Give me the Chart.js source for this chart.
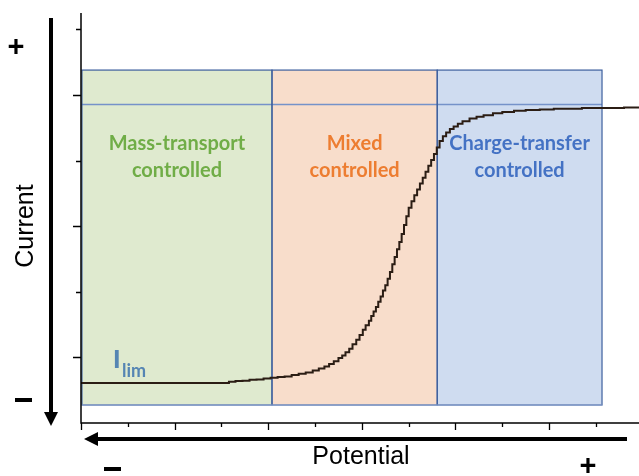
<!DOCTYPE html>
<html>
<head>
<meta charset="utf-8">
<script src="https://cdn.jsdelivr.net/npm/chart.js@4"></script>
<style>
  html, body { margin: 0; padding: 0; background: #fff; }
  #wrap { width: 639px; height: 476px; }
</style>
</head>
<body>
<div id="wrap"><canvas id="myChart" width="639" height="476"></canvas></div>
<script>
// curve (potential units, current units)
const potential = [0, 3.14, 3.16, 3.3, 3.45, 3.6, 3.75, 3.9, 4.05, 4.2, 4.35, 4.5, 4.65, 4.8, 4.95, 5.08, 5.2, 5.3, 5.4, 5.5,
  5.58, 5.65, 5.73, 5.8, 5.88, 5.95, 6.02, 6.08, 6.15, 6.2, 6.25, 6.3, 6.35, 6.4, 6.45, 6.5, 6.55, 6.6, 6.65, 6.7,
  6.75, 6.8, 6.85, 6.9, 6.95, 7.0, 7.06, 7.12, 7.18, 7.24, 7.3, 7.36, 7.42, 7.48, 7.54, 7.6, 7.66, 7.73, 7.8, 7.88,
  7.96, 8.05, 8.15, 8.3, 8.45, 8.6, 8.8, 9.0, 9.25, 9.5, 9.8, 10.1, 10.4, 10.7, 11.0, 11.3, 11.6, 11.92];
const current = [0.61, 0.61, 0.63, 0.64, 0.645, 0.66, 0.665, 0.68, 0.69, 0.7, 0.71, 0.73, 0.75, 0.77, 0.8, 0.83, 0.86, 0.9, 0.94, 0.99,
  1.03, 1.08, 1.13, 1.2, 1.27, 1.34, 1.42, 1.49, 1.56, 1.63, 1.7, 1.77, 1.85, 1.93, 2.02, 2.1, 2.2, 2.3, 2.42, 2.53,
  2.65, 2.76, 2.88, 3.02, 3.15, 3.28, 3.38, 3.47, 3.56, 3.65, 3.74, 3.83, 3.92, 4.01, 4.1, 4.2, 4.3, 4.37, 4.43, 4.48,
  4.52, 4.56, 4.6, 4.64, 4.67, 4.69, 4.72, 4.74, 4.76, 4.77, 4.78, 4.79, 4.79, 4.8, 4.8, 4.8, 4.81, 4.81];

// regions
const regionNames = [["Mass-transport", "controlled"], ["Mixed", "controlled"], ["Charge-transfer", "controlled"]];
const regionStart = [0.02, 4.08, 7.61];
const regionEnd = [4.08, 7.61, 11.13];
const regionTop = 5.38;
const regionBottom = 0.274;
const limitLine = 4.86;
const regionFill = ["#dfeacf", "#f8ddcb", "#cfdcf0"];
const regionText = ["#70ad47", "#ed7d31", "#4472c4"];

const xMax = 11.92;
const yMax = 6.25;

let pts = [];
for (let i = 0; i < potential.length; i++) {
  pts.push({ x: potential[i], y: current[i] });
}

// 영역 박스 + 축 + 눈금 + 글자
const decor = {
  id: 'decor',
  beforeDatasetsDraw(chart) {
    const ctx = chart.ctx;
    const xs = chart.scales.x, ys = chart.scales.y;
    const t = ys.getPixelForValue(regionTop), b = ys.getPixelForValue(regionBottom);
    ctx.save();
    for (let i = 0; i < regionStart.length; i++) {
      const l = xs.getPixelForValue(regionStart[i]), r = xs.getPixelForValue(regionEnd[i]);
      ctx.fillStyle = regionFill[i];
      ctx.fillRect(l, t, r - l, b - t);
    }
    // horizontal limiting line
    ctx.strokeStyle = "#7592c9";
    ctx.lineWidth = 1.3;
    const ly = Math.round(ys.getPixelForValue(limitLine)) + 0.5;
    ctx.beginPath();
    ctx.moveTo(xs.getPixelForValue(regionStart[0]), ly);
    ctx.lineTo(xs.getPixelForValue(regionEnd[2]), ly);
    ctx.stroke();
    // box borders
    ctx.strokeStyle = "#3d5f9e";
    ctx.lineWidth = 1.2;
    for (let i = 0; i < regionStart.length; i++) {
      const l = xs.getPixelForValue(regionStart[i]), r = xs.getPixelForValue(regionEnd[i]);
      ctx.strokeRect(l, t, r - l, b - t);
    }
    ctx.strokeStyle = "#8fa6cf";
    ctx.beginPath();
    ctx.moveTo(xs.getPixelForValue(regionStart[0]), b);
    ctx.lineTo(xs.getPixelForValue(regionEnd[2]), b);
    ctx.stroke();
    ctx.restore();
  },
  afterDraw(chart) {
    const ctx = chart.ctx;
    const xs = chart.scales.x, ys = chart.scales.y;
    const a = chart.chartArea;
    ctx.save();
    // axes + ticks
    ctx.strokeStyle = "#000";
    ctx.lineWidth = 1.5;
    ctx.beginPath();
    ctx.moveTo(a.left, a.top);
    ctx.lineTo(a.left, a.bottom);
    ctx.lineTo(a.right, a.bottom);
    ctx.stroke();
    ctx.lineWidth = 1.3;
    ctx.beginPath();
    for (let v = 0; v <= xMax; v++) {
      const px = Math.round(xs.getPixelForValue(v)) + 0.5;
      ctx.moveTo(px, a.bottom);
      ctx.lineTo(px, a.bottom + (v % 2 == 0 ? 7 : 4));
    }
    for (let v = 1; v <= 6; v++) {
      const py = Math.round(ys.getPixelForValue(v)) + 0.5;
      ctx.moveTo(a.left, py);
      ctx.lineTo(a.left - (v % 2 == 1 ? 8 : 5), py);
    }
    ctx.stroke();

    // region labels
    ctx.textAlign = "center";
    ctx.textBaseline = "middle";
    ctx.font = "bold 20px Lato";
    for (let i = 0; i < regionNames.length; i++) {
      const cx = (xs.getPixelForValue(regionStart[i]) + xs.getPixelForValue(regionEnd[i])) / 2;
      ctx.fillStyle = regionText[i];
      ctx.fillText(regionNames[i][0], cx, 144);
      ctx.fillText(regionNames[i][1], cx, 171);
    }

    // I lim
    ctx.fillStyle = "#5585b3";
    ctx.textAlign = "left";
    ctx.textBaseline = "alphabetic";
    ctx.font = "900 25px Lato";
    ctx.fillText("I", 113, 368);
    ctx.font = "bold 18px Lato";
    ctx.fillText("lim", 122, 377);

    // axis titles
    ctx.fillStyle = "#000";
    ctx.font = "25px 'Liberation Sans'";
    ctx.textAlign = "center";
    ctx.textBaseline = "middle";
    ctx.fillText("Potential", 361, 457);
    ctx.save();
    ctx.translate(26, 226);
    ctx.rotate(-Math.PI / 2);
    ctx.fillText("Current", 0, 0);
    ctx.restore();

    // signs
    ctx.font = "bold 29px 'Liberation Sans'";
    ctx.fillText("+", 16, 48);
    ctx.fillText("+", 588, 467);
    ctx.fillRect(15, 398, 17, 4);
    ctx.fillRect(104, 467, 17, 4);

    // arrows
    ctx.fillRect(49, 18, 4, 398);
    ctx.beginPath();
    ctx.moveTo(44, 412); ctx.lineTo(58, 412); ctx.lineTo(51, 426); ctx.closePath();
    ctx.fill();
    ctx.fillRect(96, 437, 531, 4);
    ctx.beginPath();
    ctx.moveTo(98, 432); ctx.lineTo(98, 446); ctx.lineTo(84, 439); ctx.closePath();
    ctx.fill();
    ctx.restore();
  }
};

const ctx = document.getElementById('myChart');

new Chart(ctx, {
  type: 'scatter',
  data: {
    datasets: [{
      label: 'current',
      data: pts,
      showLine: true,
      stepped: 'before',
      borderColor: '#2b1d14',
      borderWidth: 2,
      pointRadius: 0
    }]
  },
  options: {
    responsive: false,
    animation: false,
    layout: { padding: { left: 81, top: 13, right: 0, bottom: 53 } },
    plugins: { legend: { display: false }, tooltip: { enabled: false } },
    scales: {
      x: { type: 'linear', min: 0, max: xMax, display: false },
      y: { type: 'linear', min: 0, max: yMax, display: false }
    }
  },
  plugins: [decor]
});
</script>
</body>
</html>
